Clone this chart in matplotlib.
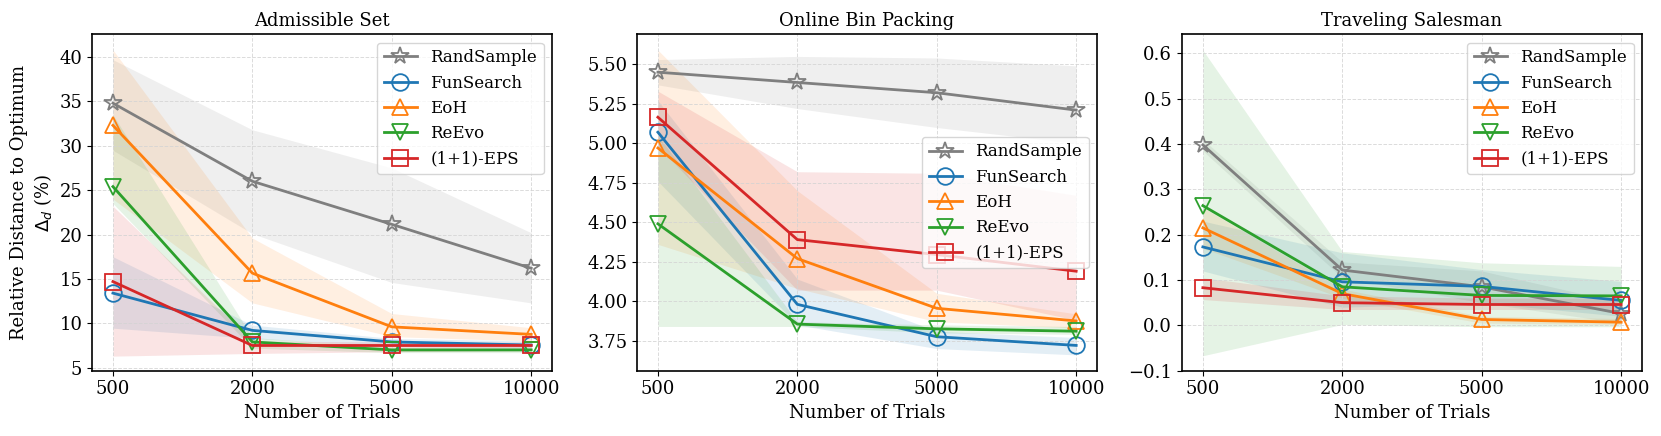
import matplotlib
matplotlib.use("Agg")
import matplotlib.pyplot as plt

plt.rcParams['font.family'] = 'serif'
plt.rcParams['font.serif'] = ['DejaVu Serif']

trials = ["500", "2000", "5000", "10000"]
methods = ["RandSample", "FunSearch", "EoH", "ReEvo", "(1+1)-EPS"]
colors = ["tab:gray", "tab:blue", "tab:orange", "tab:green", "tab:red"]
markers = ["*", "o", "^", "v", "s"]
titles = ["Admissible Set", "Online Bin Packing", "Traveling Salesman"]

# Admissible Set: mean, lower, upper
adm_mean = [
    [34.8, 26.0, 21.15, 16.2],
    [13.4, 9.2, 7.9, 7.55],
    [32.3, 15.65, 9.6, 8.75],
    [25.4, 7.9, 7.0, 7.0],
    [14.7, 7.5, 7.5, 7.5],
]
adm_low = [
    [29.5, 20.1, 14.6, 12.3],
    [9.45, 8.3, 7.4, 7.2],
    [24.0, 12.3, 8.5, 8.0],
    [23.5, 7.2, 6.7, 6.7],
    [6.3, 6.6, 6.8, 6.9],
]
adm_high = [
    [39.7, 31.8, 27.5, 20.2],
    [17.5, 9.8, 8.3, 8.0],
    [40.8, 19.6, 11.1, 9.5],
    [33.5, 8.4, 7.3, 7.3],
    [23.2, 8.0, 7.9, 7.9],
]

# Online Bin Packing
obp_mean = [
    [5.45, 5.385, 5.32, 5.21],
    [5.07, 3.98, 3.775, 3.72],
    [4.97, 4.27, 3.955, 3.875],
    [4.49, 3.855, 3.825, 3.81],
    [5.165, 4.39, 4.295, 4.19],
]
obp_low = [
    [5.37, 5.22, 5.10, 5.0],
    [4.76, 3.85, 3.70, 3.66],
    [4.36, 4.08, 3.87, 3.83],
    [3.84, 3.84, 3.80, 3.79],
    [4.98, 4.07, 4.07, 3.88],
]
obp_high = [
    [5.53, 5.55, 5.54, 5.49],
    [5.27, 4.14, 3.81, 3.77],
    [5.59, 4.70, 4.05, 3.92],
    [5.05, 3.87, 3.85, 3.84],
    [5.33, 4.82, 4.81, 4.67],
]

# Traveling Salesman
tsp_mean = [
    [0.398, 0.122, 0.085, 0.026],
    [0.173, 0.096, 0.086, 0.055],
    [0.215, 0.07, 0.013, 0.007],
    [0.264, 0.085, 0.066, 0.065],
    [0.083, 0.05, 0.046, 0.046],
]
tsp_low = [
    [0.385, 0.105, 0.05, 0.005],
    [0.12, 0.04, 0.05, 0.02],
    [0.17, 0.06, 0.005, 0.002],
    [-0.067, 0.002, -0.003, -0.003],
    [0.057, 0.035, 0.035, 0.035],
]
tsp_high = [
    [0.41, 0.14, 0.12, 0.05],
    [0.23, 0.16, 0.123, 0.097],
    [0.26, 0.08, 0.02, 0.015],
    [0.607, 0.163, 0.138, 0.13],
    [0.105, 0.065, 0.06, 0.06],
]

panels = [
    (adm_mean, adm_low, adm_high, (4.66, 42.56), "upper right"),
    (obp_mean, obp_low, obp_high, (3.56, 5.69), "center right"),
    (tsp_mean, tsp_low, tsp_high, (-0.1, 0.642), "upper right"),
]

fig = plt.figure(figsize=(16.61, 4.36), dpi=100)
lefts = [0.0554, 0.3835, 0.7116]
xs = list(range(len(trials)))

for i, (mean, low, high, ylim, loc) in enumerate(panels):
    ax = fig.add_axes([lefts[i], 0.1498, 0.277, 0.7715])
    for j, name in enumerate(methods):
        ax.fill_between(xs, low[j], high[j], color=colors[j], alpha=0.12, linewidth=0)
        ax.plot(xs, mean[j], color=colors[j], marker=markers[j], markersize=13 if markers[j] == "*" else 12,
                markerfacecolor="none", markeredgewidth=1.3, linewidth=2, label=name)
    ax.set_xticks(xs)
    ax.set_xticklabels(trials)
    ax.set_xlim(-0.15, 3.15)
    ax.set_ylim(*ylim)
    ax.grid(True, linestyle="--", color="lightgray", alpha=0.8, linewidth=0.7)
    ax.tick_params(labelsize=13)
    ax.set_xlabel("Number of Trials", fontsize=13)
    ax.set_title(titles[i], fontsize=13)
    ax.legend(loc=loc, fontsize=12)
    for s in ax.spines.values():
        s.set_linewidth(1.2)
    if i == 0:
        ax.set_ylabel("Relative Distance to Optimum\n$\\Delta_d$ (%)", fontsize=13)
    if i == 1:
        ax.set_yticks([3.75, 4.0, 4.25, 4.5, 4.75, 5.0, 5.25, 5.5])

fig.savefig("out.png", dpi=100)
